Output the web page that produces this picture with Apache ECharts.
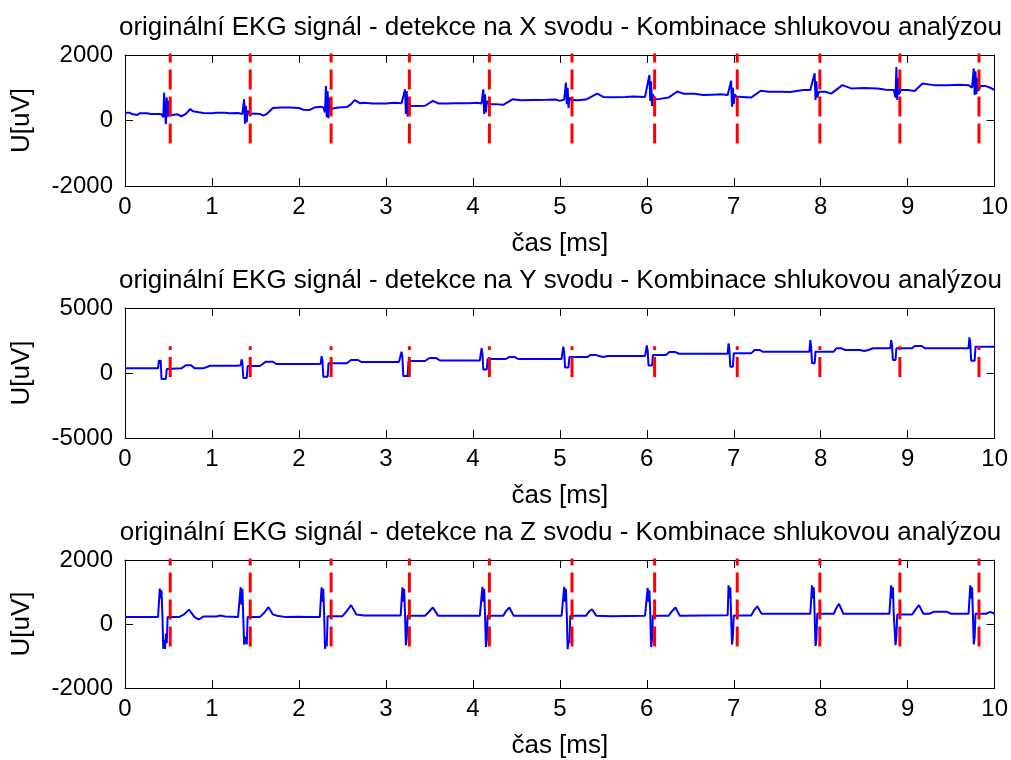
<!DOCTYPE html>
<html>
<head>
<meta charset="utf-8">
<script src="https://cdn.jsdelivr.net/npm/echarts@6/dist/echarts.min.js"></script>
<style>html,body{margin:0;padding:0;background:#fff}#c{width:1011px;height:760px}</style>
</head>
<body>
<div id="c"></div>
<script>
// ---- data ----
const titles = [
  'originální EKG signál - detekce na X svodu - Kombinace shlukovou analýzou',
  'originální EKG signál - detekce na Y svodu - Kombinace shlukovou analýzou',
  'originální EKG signál - detekce na Z svodu - Kombinace shlukovou analýzou'
];
const xName = 'čas [ms]';
const yName = 'U[uV]';
const yRanges = [[-2000, 2000, 2000], [-5000, 5000, 5000], [-2000, 2000, 2000]];
const detections = [0.52, 1.44, 2.37, 3.27, 4.19, 5.14, 6.09, 7.04, 7.99, 8.91, 9.82];
const markerSpan = [[-700, 2400], [-300, 2050], [-700, 2400]];

const sigX = [[0,240],[0.05,240],[0.08,200],[0.1,170],[0.14,170],[0.17,220],[0.25,220],[0.3,200],[0.38,200],[0.42,190],
[0.44,100],[0.45,850],[0.46,300],[0.47,-110],[0.48,700],[0.49,100],[0.5,600],[0.51,150],[0.53,200],
[0.6,190],[0.65,130],[0.7,200],[0.75,350],[0.78,280],[0.85,250],[0.9,230],[1.0,220],[1.05,240],[1.15,240],[1.2,220],[1.3,230],
[1.35,200],[1.37,650],[1.38,-100],[1.39,450],[1.40,-50],[1.41,300],[1.43,200],[1.47,210],
[1.55,200],[1.59,150],[1.63,200],[1.70,380],[1.8,400],[1.9,400],[2.0,380],[2.05,330],[2.12,320],[2.18,400],[2.25,420],
[2.28,400],[2.30,250],[2.31,1050],[2.32,100],[2.33,900],[2.34,70],[2.35,700],[2.36,350],[2.38,400],
[2.45,400],[2.55,410],[2.6,500],[2.64,620],[2.7,530],[2.75,540],[2.85,520],[3.0,520],[3.1,540],[3.18,530],
[3.2,500],[3.22,950],[3.23,200],[3.24,900],[3.25,125],[3.26,600],[3.28,450],
[3.35,440],[3.45,450],[3.54,600],[3.6,520],[3.7,520],[3.8,530],[3.95,530],[4.05,540],
[4.1,520],[4.12,950],[4.13,200],[4.14,800],[4.15,250],[4.16,600],[4.18,500],
[4.25,500],[4.35,480],[4.46,650],[4.55,620],[4.7,625],[4.85,630],[4.95,640],[5.0,600],
[5.05,640],[5.07,1160],[5.08,500],[5.09,1000],[5.10,380],[5.11,700],[5.13,630],
[5.2,620],[5.3,640],[5.43,820],[5.5,720],[5.6,710],[5.75,720],[5.85,730],[5.98,720],
[6.0,700],[6.03,1390],[6.04,600],[6.05,1200],[6.06,440],[6.07,800],[6.09,650],
[6.15,660],[6.25,700],[6.35,885],[6.42,820],[6.55,820],[6.65,780],[6.75,790],[6.85,800],[6.93,780],
[6.95,760],[6.97,1215],[6.98,420],[6.99,1000],[7.0,500],[7.01,800],[7.03,730],
[7.1,720],[7.2,700],[7.31,910],[7.4,880],[7.55,880],[7.65,870],[7.8,930],[7.88,930],
[7.9,900],[7.93,1440],[7.94,625],[7.95,1200],[7.96,700],[7.98,880],
[8.05,880],[8.12,820],[8.25,1080],[8.35,980],[8.5,990],[8.65,980],[8.75,940],[8.84,930],
[8.86,700],[8.87,1630],[8.88,625],[8.89,1300],[8.90,800],[8.92,930],
[9.0,930],[9.08,900],[9.17,1130],[9.3,1080],[9.45,1080],[9.6,1090],[9.7,1080],
[9.74,1000],[9.76,1590],[9.77,780],[9.78,1500],[9.79,800],[9.80,1300],[9.81,900],[9.84,1050],
[9.9,1050],[9.95,1000],[10,930]];

const sigY = [[0,360],[0.38,360],[0.39,1000],[0.40,700],[0.41,1000],[0.42,-460],[0.47,-460],[0.48,300],[0.5,360],
[0.65,360],[0.7,600],[0.76,600],[0.8,360],[0.9,360],[0.98,560],[1.3,560],[1.33,600],
[1.34,1050],[1.35,800],[1.36,-380],[1.40,-380],[1.41,540],[1.55,540],[1.62,870],[1.7,870],[1.74,690],[2.2,690],[2.25,720],
[2.26,1300],[2.27,1000],[2.28,-280],[2.33,-280],[2.34,745],[2.55,745],[2.6,1000],[2.68,1000],[2.72,845],[3.15,845],
[3.18,1640],[3.19,1200],[3.20,-230],[3.25,-230],[3.26,920],[3.45,920],[3.5,1150],[3.58,1150],[3.62,970],[4.08,970],
[4.1,1920],[4.11,1500],[4.12,270],[4.16,270],[4.17,1080],[4.38,1080],[4.42,1230],[4.48,1230],[4.52,1080],[5.02,1080],
[5.04,2020],[5.05,1600],[5.06,430],[5.1,430],[5.11,1230],[5.32,1230],[5.35,1380],[5.42,1380],[5.45,1300],[5.5,1230],[5.55,1300],[5.98,1300],
[6.0,2120],[6.01,1700],[6.02,580],[6.06,580],[6.07,1380],[6.22,1380],[6.26,1610],[6.33,1610],[6.37,1480],[6.93,1480],
[6.94,2280],[6.95,1800],[6.96,480],[6.99,480],[7.0,1510],[7.2,1510],[7.24,1770],[7.3,1770],[7.33,1640],[7.87,1640],
[7.88,2540],[7.89,2000],[7.9,745],[7.93,745],[7.94,1640],[8.15,1640],[8.18,1900],[8.24,1900],[8.28,1770],[8.45,1770],[8.5,1700],[8.55,1770],[8.6,1900],[8.8,1900],
[8.81,2540],[8.82,2100],[8.83,1000],[8.86,1000],[8.87,1900],[9.05,1900],[9.08,2080],[9.16,2080],[9.2,1900],[9.7,1900],
[9.71,2740],[9.72,2300],[9.73,950],[9.77,950],[9.78,2020],[10,2020]];

const sigZ = [[0,215],[0.2,215],[0.21,260],[0.22,215],[0.38,215],
[0.40,1110],[0.41,800],[0.42,1050],[0.43,300],[0.44,-775],[0.45,-500],[0.46,-780],[0.47,-300],[0.48,-600],[0.49,215],
[0.62,215],[0.68,300],[0.735,450],[0.8,215],[0.85,140],[0.9,235],[1.05,235],[1.1,265],[1.15,235],[1.3,215],
[1.33,1150],[1.34,600],[1.35,1100],[1.36,200],[1.37,-640],[1.39,-400],[1.40,-640],[1.41,215],
[1.55,215],[1.6,350],[1.65,525],[1.7,300],[1.75,260],[1.85,215],[2.0,230],[2.1,215],[2.24,215],
[2.26,1150],[2.27,700],[2.28,1100],[2.29,300],[2.30,-775],[2.31,-500],[2.32,-700],[2.33,245],
[2.5,245],[2.55,400],[2.60,590],[2.66,300],[2.75,265],[3.17,265],
[3.19,1150],[3.20,700],[3.21,1100],[3.22,300],[3.23,-660],[3.24,-400],[3.25,255],
[3.45,255],[3.5,400],[3.54,515],[3.6,255],[4.08,255],
[4.11,1160],[4.12,700],[4.13,1100],[4.14,300],[4.15,-720],[4.16,-500],[4.17,255],
[4.35,255],[4.38,400],[4.42,515],[4.47,255],[5.02,255],
[5.05,1160],[5.06,700],[5.07,1100],[5.08,300],[5.09,-785],[5.10,-500],[5.11,-600],[5.12,255],
[5.3,255],[5.34,400],[5.37,460],[5.42,255],[5.6,240],[5.98,255],
[6.01,1130],[6.02,700],[6.03,1050],[6.04,300],[6.05,-720],[6.06,-500],[6.07,255],
[6.25,255],[6.29,400],[6.33,515],[6.38,255],[6.93,275],
[6.94,1210],[6.95,800],[6.96,1150],[6.97,200],[6.98,-640],[6.99,-400],[7.0,265],
[7.2,265],[7.24,450],[7.27,555],[7.32,320],[7.8,320],[7.82,265],[7.88,320],
[7.90,1210],[7.91,800],[7.92,1150],[7.93,300],[7.94,-690],[7.95,-500],[7.96,320],
[8.15,320],[8.18,500],[8.21,630],[8.26,320],[8.6,320],[8.62,380],[8.64,320],[8.79,320],
[8.81,1210],[8.82,800],[8.83,1150],[8.84,300],[8.86,-660],[8.87,-400],[8.88,295],
[9.05,295],[9.09,450],[9.13,590],[9.18,320],[9.25,320],[9.3,380],[9.45,380],[9.5,320],[9.7,320],
[9.72,1210],[9.73,800],[9.74,1150],[9.75,300],[9.76,-640],[9.77,-400],[9.78,320],
[9.9,320],[9.95,380],[10,320]];

// ---- chart ----
const signals = [sigX, sigY, sigZ];
const FONT = 'Liberation Sans, Arial, sans-serif';
const grids = [
  {left:125, right:15, top:55, height:131},
  {left:125, right:15, top:308, height:130},
  {left:125, right:15, top:560, height:128}
];
const titleY = [28, 281, 533];
const xAxes = [], yAxes = [], series = [], graphics = [];
const axLine = {show:true, onZero:false, lineStyle:{color:'#000', width:1}};
const tick = {inside:true, length:8, lineStyle:{color:'#000'}};
for (let i = 0; i < 3; i++) {
  xAxes.push({gridIndex:i, type:'value', min:0, max:10, interval:1, position:'bottom',
    axisLine:axLine, axisTick:tick,
    axisLabel:{color:'#000', fontSize:24, fontFamily:FONT, margin:9, formatter:v => String(v)},
    splitLine:{show:false}, name:xName, nameLocation:'middle', nameGap:45,
    nameTextStyle:{color:'#000', fontSize:26, fontFamily:FONT}});
  xAxes.push({gridIndex:i, type:'value', min:0, max:10, interval:1, position:'top',
    axisLine:axLine, axisTick:tick,
    axisLabel:{show:false}, splitLine:{show:false}});
  const r = yRanges[i];
  yAxes.push({gridIndex:i, type:'value', min:r[0], max:r[1], interval:r[2], position:'left',
    axisLine:axLine, axisTick:tick,
    axisLabel:{color:'#000', fontSize:24, fontFamily:FONT, margin:12, formatter:v => String(v)},
    splitLine:{show:false}, name:yName, nameLocation:'middle', nameGap:90, nameRotate:90,
    nameTextStyle:{color:'#000', fontSize:26, fontFamily:FONT}});
  yAxes.push({gridIndex:i, type:'value', min:r[0], max:r[1], interval:r[2], position:'right',
    axisLine:axLine, axisTick:tick,
    axisLabel:{show:false}, splitLine:{show:false}});
  series.push({type:'line', xAxisIndex:2*i, yAxisIndex:2*i, data:signals[i],
    showSymbol:false, symbol:'none', lineStyle:{color:'#0000ff', width:2}, animation:false});
  const marks = [];
  detections.forEach(t => { marks.push([t, markerSpan[i][0]]); marks.push([t, markerSpan[i][1]]); marks.push([t, null]); });
  series.push({type:'line', xAxisIndex:2*i, yAxisIndex:2*i, data:marks, connectNulls:false,
    showSymbol:false, symbol:'none', lineStyle:{color:'#ff0000', width:3, type:[20,7]}, animation:false});
  graphics.push({type:'text', x:560.5, y:titleY[i],
    style:{text:titles[i], fontSize:26, fontFamily:FONT, fill:'#000', align:'center', verticalAlign:'middle'}});
}
const chart = echarts.init(document.getElementById('c'), null, {renderer:'canvas'});
chart.setOption({
  animation:false, backgroundColor:'#fff',
  grid:grids, xAxis:xAxes, yAxis:yAxes, series:series, graphic:graphics
});
</script>
</body>
</html>
